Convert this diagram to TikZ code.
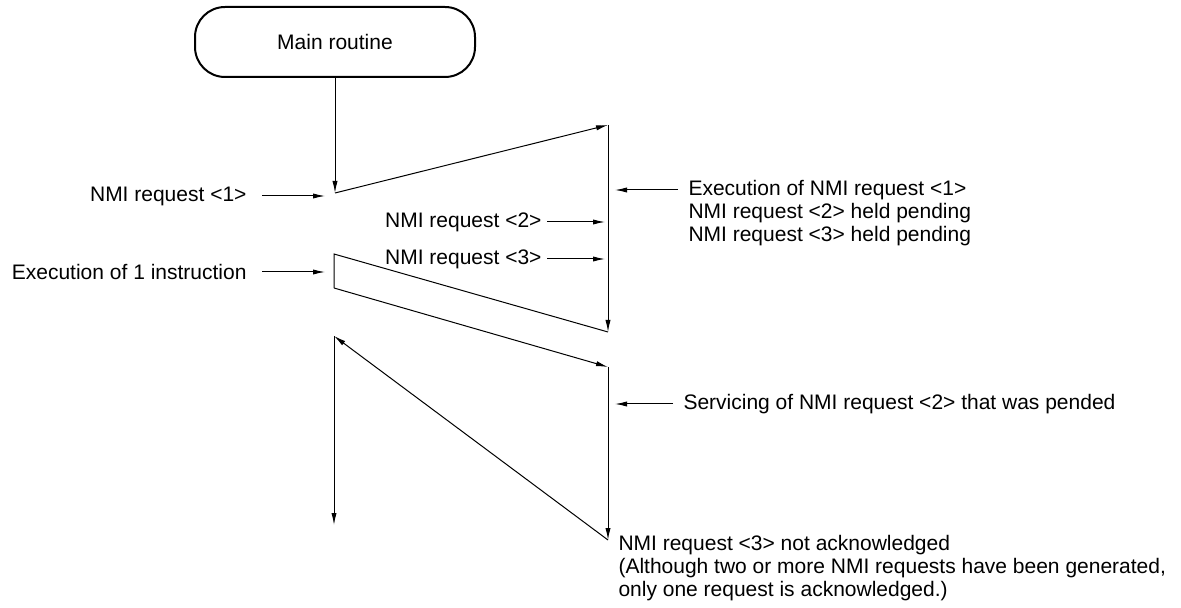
\documentclass[tikz,border=0pt]{standalone}
\usepackage{fontspec}
\setmainfont{Liberation Sans}
\usetikzlibrary{arrows.meta,positioning}

\begin{document}
\begin{tikzpicture}[
  x=0.5pt,y=-0.5pt,line width=0.5pt,>={Latex[length=6pt,width=2.6pt]},
  term/.style={draw,line width=1pt,rounded corners=15pt,minimum width=140pt,
              minimum height=35pt,inner sep=0pt,font=\fontsize{10.5}{11.5}\selectfont},
  lbl/.style={inner sep=0pt,align=left,font=\fontsize{10.5}{11.5}\selectfont}]
  \useasboundingbox (0,0) rectangle (1181,608);
  \node[term](main) at (335,42){Main routine};
  % turning points of the flow
  \coordinate (a) at (335,193);
  \coordinate (b) at (608,125);
  \coordinate (c) at (608,332);
  \coordinate (d) at (334,254);
  \coordinate (e) at (334,288);
  \coordinate (f) at (608,367);
  \coordinate (g) at (608,540);
  \coordinate (h) at (334,336);
  \coordinate (i) at (334,525);
  \draw[->](main)--(a);
  \draw[->](a)--(b);
  \draw[->](b)--(c);
  \draw(c)--(d)--(e);
  \draw[->](e)--(f);
  \draw[->](f)--(g);
  \draw[->](g)--(h);
  \draw[->](h)--(i);
  % labels
  \node[lbl,anchor=east](req1) at (247,196){NMI request <1>};
  \node[lbl,anchor=east](exe1) at (247,272){Execution of 1 instruction};
  \node[lbl,anchor=east](req2) at (542,222){NMI request <2>};
  \node[lbl,anchor=east](req3) at (542,259){NMI request <3>};
  \node[lbl,anchor=west](exec) at (688,213){Execution of NMI request <1>\\
    NMI request <2> held pending\\NMI request <3> held pending};
  \node[lbl,anchor=west](serv) at (683,404){Servicing of NMI request <2> that was pended};
  \node[lbl,anchor=west](nack) at (618,568){NMI request <3> not acknowledged\\
    (Although two or more NMI requests have been generated,\\
    only one request is acknowledged.)};
  \coordinate (req1p) at (325,196);
  \coordinate (exe1p) at (325,272);
  \coordinate (req2p) at (605,222);
  \coordinate (req3p) at (605,259);
  \coordinate (execp) at (615,190);
  \coordinate (servp) at (615,404);
  \draw[->,shorten <=7.5pt](req1)--(req1p);
  \draw[->,shorten <=7.5pt](exe1)--(exe1p);
  \draw[->,shorten <=2.5pt](req2)--(req2p);
  \draw[->,shorten <=2.5pt](req3)--(req3p);
  \draw[->,shorten <=5pt](exec.west |- execp)--(execp);
  \draw[->,shorten <=5pt](serv)--(servp);
\end{tikzpicture}
\end{document}
